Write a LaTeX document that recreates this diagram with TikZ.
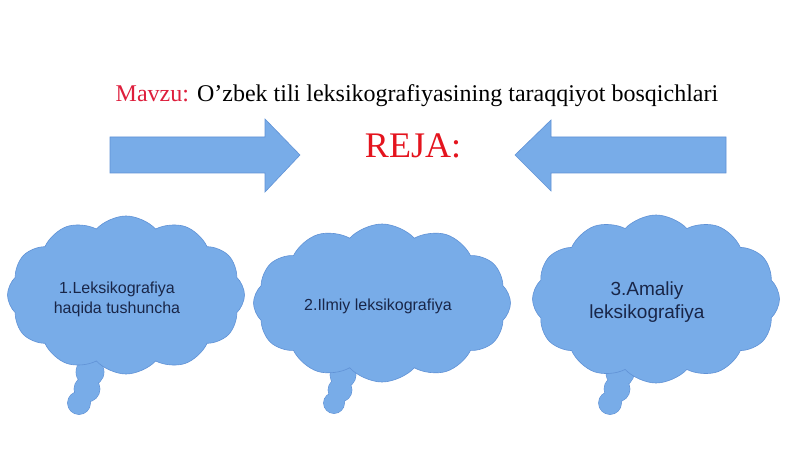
\documentclass[tikz,border=0pt]{standalone}
\usepackage{fontspec}
\setmainfont{Liberation Serif}
\newfontfamily\arialf{Liberation Sans}
\usetikzlibrary{shapes.symbols}
\definecolor{cloudfill}{RGB}{120,172,232}
\definecolor{cloudedge}{RGB}{96,146,214}
\definecolor{navytext}{RGB}{25,38,72}
\definecolor{mavzured}{RGB}{222,30,60}
\definecolor{rejared}{RGB}{228,20,30}
\tikzset{
  bluearrow/.style={fill=cloudfill, draw=cloudedge, line width=0.6pt, line join=miter},
  cloudbox/.style={cloud, cloud puffs=12, cloud puff arc=95, cloud ignores aspect,
    fill=cloudfill, draw=cloudedge, line width=0.6pt},
  cloudtext/.style={align=center, text=navytext, inner sep=0pt},
  tailpuff/.style={fill=cloudfill, draw=cloudedge, line width=0.6pt},
  tailfill/.style={fill=cloudfill},
}
\begin{document}
\begin{tikzpicture}[x=1pt,y=-1pt]
\useasboundingbox (0,0) rectangle (800,449);
\fill[white] (0,0) rectangle (800,449);
% title
\node[anchor=base, inner sep=0pt, font=\fontsize{24}{28}\selectfont] (title) at (417,102)
  {\textcolor{mavzured}{Mavzu:} O’zbek tili leksikografiyasining taraqqiyot bosqichlari};
\node[anchor=base, inner sep=0pt, text=rejared, font=\fontsize{36}{40}\selectfont] (reja) at (413,158) {REJA:};
% arrows
\draw[bluearrow] (110,137) -- (265,137) -- (265,119) -- (300,155) -- (265,192) -- (265,173) -- (110,173) -- cycle;
\draw[bluearrow] (726,137) -- (551,137) -- (551,120) -- (515,155) -- (551,191) -- (551,173) -- (726,173) -- cycle;
% tails
\draw[tailpuff] (90,372) circle (14) (87,389) circle (13) (79,403) circle (11.5);
\fill[tailfill] (90,372) circle (13.6) (87,389) circle (12.6) (79,403) circle (11.1);
\draw[tailpuff] (343,375) circle (13) (340,390) circle (12) (334,403) circle (10.5);
\fill[tailfill] (343,375) circle (12.6) (340,390) circle (11.6) (334,403) circle (10.1);
\draw[tailpuff] (620,373) circle (14) (617,389) circle (13) (610,403) circle (11.5);
\fill[tailfill] (620,373) circle (13.6) (617,389) circle (12.6) (610,403) circle (11.1);
% clouds
\node[cloudbox, minimum width=237pt, minimum height=158pt] (c1) at (126,295) {};
\node[cloudbox, minimum width=257pt, minimum height=158pt] (c2) at (382,303) {};
\node[cloudbox, minimum width=247pt, minimum height=168pt] (c3) at (656,299) {};
\node[cloudtext, font=\arialf\fontsize{16}{20}\selectfont] (t1) at ([xshift=-9pt,yshift=-4pt]c1.center)
  {1.Leksikografiya\\haqida tushuncha};
\node[cloudtext, font=\arialf\fontsize{16}{20}\selectfont] (t2) at ([xshift=-4pt,yshift=-3pt]c2.center)
  {2.Ilmiy leksikografiya};
\node[cloudtext, font=\arialf\fontsize{19}{23}\selectfont] (t3) at ([xshift=-9pt,yshift=-3pt]c3.center)
  {3.Amaliy\\leksikografiya};
\end{tikzpicture}
\end{document}
